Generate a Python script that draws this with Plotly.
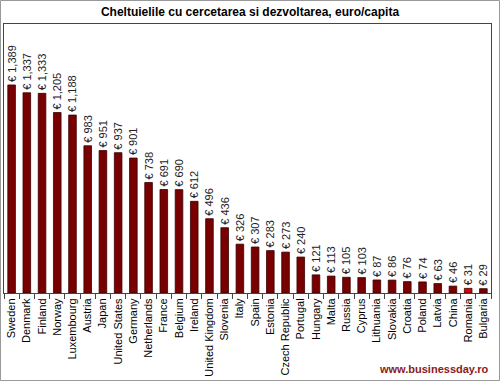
import plotly.graph_objects as go

countries = ["Sweden", "Denmark", "Finland", "Norway", "Luxembourg", "Austria", "Japan",
             "United States", "Germany", "Netherlands", "France", "Belgium", "Ireland",
             "United Kingdom", "Slovenia", "Italy", "Spain", "Estonia", "Czech Republic",
             "Portugal", "Hungary", "Malta", "Russia", "Cyprus", "Lithuania", "Slovakia",
             "Croatia", "Poland", "Latvia", "China", "Romania", "Bulgaria"]
values = [1389, 1337, 1333, 1205, 1188, 983, 951, 937, 901, 738, 691, 690, 612,
          496, 436, 326, 307, 283, 273, 240, 121, 113, 105, 103, 87, 86, 76, 74, 63, 46, 31, 29]
labels = ["€ {:,}".format(v) for v in values]
colors = ["#e00000" if c == "Romania" else "#780000" for c in countries]

W, H = 500, 381
ml, mr, mt, mb = 4, 9, 24, 88
pw, ph = W - ml - mr, H - mt - mb

fig = go.Figure(go.Bar(
    x=countries, y=values, text=labels, textposition="outside", textangle=-90,
    constraintext="none",
    textfont=dict(family="Liberation Sans, Arial", size=11, color="#222"),
    marker=dict(color=colors, line=dict(color="#3a0000", width=0.8)),
    width=0.5, cliponaxis=False,
))

fig.update_layout(
    width=W, height=H, margin=dict(l=ml, r=mr, t=mt, b=mb, autoexpand=False),
    paper_bgcolor="white", plot_bgcolor="white", showlegend=False,
    title=dict(text="<b>Cheltuielile cu cercetarea si dezvoltarea, euro/capita</b>",
               x=0.5, xanchor="center", y=1 - 12 / H, yanchor="middle",
               font=dict(family="Liberation Sans, Arial", size=12, color="black")),
    xaxis=dict(showline=True, linecolor="#444", linewidth=1, mirror=True,
               ticks="outside", tickson="boundaries", ticklen=5, tickcolor="#444",
               tickangle=-90, tickfont=dict(family="Liberation Sans, Arial", size=11, color="black"),
               showgrid=False, automargin=False),
    yaxis=dict(range=[0, 1796], showline=True, linecolor="#444", linewidth=1, mirror=True,
               showticklabels=False, ticks="", showgrid=False, zeroline=False, automargin=False),
    font=dict(family="Liberation Sans, Arial"),
)

fig.add_shape(type="rect", xref="paper", yref="paper",
              x0=(0.5 - ml) / pw, x1=(W - 0.5 - ml) / pw,
              y0=-(mb - 0.5) / ph, y1=1 + (mt - 0.5) / ph,
              line=dict(color="#999", width=1))

fig.add_annotation(text="<b>www.businessday.ro</b>", xref="paper", yref="paper",
                   x=(490 - ml) / pw, y=-(369 - mt - ph) / ph, xanchor="right", yanchor="middle",
                   showarrow=False, font=dict(family="Liberation Sans, Arial", size=11, color="#8b1a1a"))

fig.write_html("out.html", config={"displayModeBar": False},
               post_script="document.body.style.margin='0';document.body.style.overflow='hidden';")
